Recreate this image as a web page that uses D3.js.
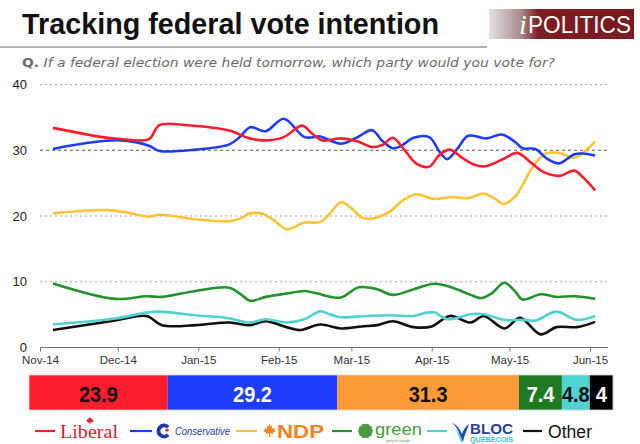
<!DOCTYPE html>
<html>
<head>
<meta charset="utf-8">
<script src="https://cdn.jsdelivr.net/npm/d3@7"></script>
<style>
body { margin: 0; background: #fff; }
</style>
</head>
<body>
<svg id="chart" width="640" height="444"></svg>
<script>
// данные опроса
const liberal = [["2014-11-06",33.4],["2014-11-25",32.0],["2014-12-02",31.7],["2014-12-13",31.7],["2014-12-17",33.8],["2014-12-28",33.8],["2015-01-09",33.3],["2015-01-14",32.9],["2015-01-20",31.9],["2015-01-26",31.5],["2015-02-03",32.0],["2015-02-10",33.75],["2015-02-14",32.5],["2015-02-18",31.5],["2015-02-25",31.8],["2015-03-03",31.4],["2015-03-09",30.5],["2015-03-13",30.8],["2015-03-17",31.9],["2015-03-21",30.3],["2015-03-26",28.0],["2015-03-31",27.5],["2015-04-04",29.3],["2015-04-08",30.1],["2015-04-13",28.75],["2015-04-18",27.7],["2015-04-22",27.6],["2015-04-29",28.75],["2015-05-04",29.6],["2015-05-09",28.2],["2015-05-14",26.7],["2015-05-20",26.1],["2015-05-26",26.9],["2015-05-29",26.0],["2015-06-03",23.9]];
const conservative = [["2014-11-06",30.2],["2014-11-19",31.1],["2014-12-02",31.5],["2014-12-13",30.7],["2014-12-17",29.9],["2014-12-31",30.1],["2015-01-13",30.9],["2015-01-17",32.0],["2015-01-21",33.5],["2015-01-27",32.9],["2015-02-03",34.8],["2015-02-11",32.0],["2015-02-17",32.1],["2015-02-19",31.8],["2015-02-25",31.0],["2015-03-03",31.9],["2015-03-09",33.05],["2015-03-13",31.4],["2015-03-17",30.3],["2015-03-20",30.6],["2015-03-25",31.9],["2015-03-31",32.0],["2015-04-04",29.8],["2015-04-07",28.65],["2015-04-11",30.3],["2015-04-15",32.2],["2015-04-22",31.8],["2015-04-28",32.4],["2015-05-03",31.3],["2015-05-06",30.3],["2015-05-11",30.2],["2015-05-15",28.85],["2015-05-20",28.0],["2015-05-26",29.4],["2015-05-29",29.5],["2015-06-03",29.2]];
const ndp = [["2014-11-06",20.4],["2014-11-27",20.9],["2014-12-05",20.5],["2014-12-13",19.9],["2014-12-17",20.2],["2014-12-31",19.5],["2015-01-13",19.2],["2015-01-17",19.6],["2015-01-21",20.4],["2015-01-26",20.3],["2015-01-30",19.4],["2015-02-04",18.0],["2015-02-11",19.0],["2015-02-17",19.1],["2015-02-21",20.5],["2015-02-25",22.1],["2015-03-01",21.2],["2015-03-05",19.8],["2015-03-09",19.6],["2015-03-13",20.1],["2015-03-16",20.7],["2015-03-21",22.4],["2015-03-26",23.3],["2015-04-02",22.6],["2015-04-09",22.9],["2015-04-15",22.7],["2015-04-21",23.4],["2015-04-25",22.7],["2015-04-29",21.85],["2015-05-03",22.9],["2015-05-06",24.7],["2015-05-10",27.5],["2015-05-15",29.5],["2015-05-20",29.6],["2015-05-26",28.85],["2015-05-29",29.5],["2015-06-03",31.3]];
const green = [["2014-11-06",9.75],["2014-11-30",7.4],["2014-12-12",7.8],["2014-12-18",7.7],["2014-12-31",8.6],["2015-01-13",9.1],["2015-01-17",8.2],["2015-01-21",7.1],["2015-01-27",7.7],["2015-02-04",8.2],["2015-02-11",8.6],["2015-02-16",8.2],["2015-02-21",7.7],["2015-02-25",7.6],["2015-03-04",9.15],["2015-03-11",8.85],["2015-03-17",8.0],["2015-03-25",8.85],["2015-04-02",9.7],["2015-04-09",9.1],["2015-04-16",8.0],["2015-04-20",7.5],["2015-04-24",8.2],["2015-04-29",9.85],["2015-05-03",8.6],["2015-05-06",7.3],["2015-05-13",8.1],["2015-05-19",7.7],["2015-05-26",7.8],["2015-06-03",7.4]];
const bloc = [["2014-11-06",3.5],["2014-11-30",4.4],["2014-12-12",5.3],["2014-12-17",5.45],["2014-12-31",4.9],["2015-01-12",4.5],["2015-01-21",3.8],["2015-01-27",4.3],["2015-02-04",3.8],["2015-02-11",4.3],["2015-02-17",5.5],["2015-02-21",5.0],["2015-02-25",4.6],["2015-03-07",4.8],["2015-03-16",4.9],["2015-03-25",4.8],["2015-03-30",5.3],["2015-04-02",5.35],["2015-04-07",4.3],["2015-04-16",5.05],["2015-04-21",5.05],["2015-04-29",4.2],["2015-05-06",4.2],["2015-05-11",4.1],["2015-05-19",5.45],["2015-05-27",4.2],["2015-06-03",4.8]];
const other = [["2014-11-06",2.65],["2014-11-30",4.1],["2014-12-12",4.8],["2014-12-18",3.4],["2014-12-31",3.4],["2015-01-13",3.8],["2015-01-21",3.4],["2015-01-27",4.0],["2015-02-04",3.1],["2015-02-09",2.65],["2015-02-17",3.5],["2015-02-25",2.9],["2015-03-05",3.2],["2015-03-11",3.4],["2015-03-17",4.0],["2015-03-25",3.1],["2015-04-01",3.2],["2015-04-08",4.8],["2015-04-16",3.8],["2015-04-21",4.8],["2015-04-29",2.9],["2015-05-05",4.5],["2015-05-13",2.0],["2015-05-19",3.1],["2015-05-27",3.1],["2015-06-03",3.9]];

const monthTicks = ["2014-11-01","2014-12-01","2015-01-01","2015-02-01","2015-03-01","2015-04-01","2015-05-01","2015-06-01"];
const yTicks = [0, 10, 20, 30, 40];

const partyKeys = ["liberal", "conservative", "ndp", "green", "bloc", "other"];
const lineColors = ["#fd1d2f", "#1d3cfb", "#fdc536", "#23922a", "#4fd2d2", "#111111"];
const barColors = ["#fd1d2f", "#1d3cfb", "#fd9a38", "#1f7a23", "#4fd2d2", "#000000"];
const latest = [23.9, 29.2, 31.3, 7.4, 4.8, 4];
const latestText = ["23.9", "29.2", "31.3", "7.4", "4.8", "4"];
const latestTextColors = ["#111", "#fff", "#111", "#fff", "#111", "#fff"];

const parseDate = d3.timeParse("%Y-%m-%d");
const series = [liberal, conservative, ndp, green, bloc, other];

const svg = d3.select("#chart");
const area = { left: 40, right: 608, top: 84.5, bottom: 347.5, dataRight: 590 };

// заголовок
svg.append("text")
    .attr("x", 22).attr("y", 34)
    .attr("textLength", 417).attr("lengthAdjust", "spacingAndGlyphs")
    .style("font-family", "'Liberation Sans', Arial, sans-serif")
    .style("font-weight", "bold").style("font-size", "30px").style("fill", "#111")
    .text("Tracking federal vote intention");

svg.append("line")
    .attr("x1", 0).attr("x2", 487).attr("y1", 47).attr("y2", 47)
    .attr("stroke", "#9a9a9a").attr("stroke-width", 1.5);

const sub = svg.append("text")
    .attr("x", 22).attr("y", 67)
    .attr("textLength", 533).attr("lengthAdjust", "spacingAndGlyphs")
    .style("font-family", "'DejaVu Sans', sans-serif").style("font-size", "13px").style("fill", "#6a6a6a");
sub.append("tspan").style("font-weight", "bold").text("Q.");
sub.append("tspan").style("font-style", "italic").text(" If a federal election were held tomorrow, which party would you vote for?");

// логотип
const grad = svg.append("defs").append("linearGradient").attr("id", "logoGrad");
grad.append("stop").attr("offset", "0%").attr("stop-color", "#e6e2e2");
grad.append("stop").attr("offset", "22%").attr("stop-color", "#a98a8a");
grad.append("stop").attr("offset", "34%").attr("stop-color", "#7e1e22");
grad.append("stop").attr("offset", "100%").attr("stop-color", "#7a1a1f");
svg.append("rect").attr("x", 489).attr("y", 9).attr("width", 145).attr("height", 30).attr("fill", "url(#logoGrad)");
svg.append("text").attr("x", 519).attr("y", 34)
    .style("font-family", "'Liberation Serif', serif").style("font-style", "italic")
    .style("font-size", "28px").style("fill", "#fff").text("i");
svg.append("text").attr("x", 528).attr("y", 33)
    .attr("textLength", 103).attr("lengthAdjust", "spacingAndGlyphs")
    .style("font-family", "'Liberation Sans', Arial, sans-serif")
    .style("font-size", "23px").style("fill", "#fff").text("POLITICS");

// шкалы
const scaleX = d3.scaleTime()
    .domain([parseDate(monthTicks[0]), parseDate(monthTicks[monthTicks.length - 1])])
    .range([area.left, area.dataRight]);
const scaleY = d3.scaleLinear().domain([0, 40]).range([area.bottom, area.top]);

// сетка
svg.append("g").selectAll("line")
    .data(yTicks.filter(d => d > 0))
    .join("line")
    .attr("x1", area.left).attr("x2", area.right)
    .attr("y1", d => scaleY(d)).attr("y2", d => scaleY(d))
    .attr("stroke", d => d === 30 ? "#555" : "#aaa")
    .attr("stroke-width", 1)
    .attr("stroke-dasharray", d => d === 30 ? "3,3" : "2,3");

svg.append("g").selectAll("text")
    .data(yTicks)
    .join("text")
    .attr("x", 27).attr("y", d => scaleY(d) + 4.5)
    .attr("text-anchor", "end")
    .style("font-family", "'Liberation Sans', Arial, sans-serif")
    .style("font-size", "13px").style("fill", "#222")
    .text(d => d);

// ось X
const axisX = d3.axisBottom(scaleX)
    .tickValues(monthTicks.map(parseDate))
    .tickFormat(d3.timeFormat("%b-%y"))
    .tickSize(4).tickPadding(4);
const gx = svg.append("g")
    .attr("transform", `translate(0, ${area.bottom})`)
    .call(axisX);
gx.select(".domain").remove();
gx.selectAll(".tick line").attr("stroke", "#777");
gx.selectAll("text")
    .style("font-family", "'Liberation Sans', Arial, sans-serif")
    .style("font-size", "11.5px").style("fill", "#333");
svg.append("line")
    .attr("x1", area.left).attr("x2", area.right)
    .attr("y1", area.bottom).attr("y2", area.bottom)
    .attr("stroke", "#777").attr("stroke-width", 1);

// линии
const lineGen = d3.line()
    .x(d => scaleX(parseDate(d[0])))
    .y(d => scaleY(d[1]))
    .curve(d3.curveCatmullRom.alpha(0.5));

[5, 4, 3, 2, 1, 0].forEach(i => {
    svg.append("path")
        .datum(series[i])
        .attr("fill", "none")
        .attr("stroke", lineColors[i])
        .attr("stroke-width", 2.6)
        .attr("stroke-linejoin", "round")
        .attr("d", lineGen);
});

// полоса последних значений
const total = d3.sum(latest);
const starts = d3.cumsum([0, ...latest]);
const scaleBar = d3.scaleLinear().domain([0, total]).range([29, 613]);
const barTop = 375, barH = 35;

latest.forEach((v, i) => {
    svg.append("rect")
        .attr("x", scaleBar(starts[i]))
        .attr("y", barTop)
        .attr("width", scaleBar(starts[i] + v) - scaleBar(starts[i]))
        .attr("height", barH)
        .attr("fill", barColors[i]);
    const label = latestText[i];
    svg.append("text")
        .attr("x", scaleBar(starts[i] + v / 2))
        .attr("y", barTop + 26.5)
        .attr("text-anchor", "middle")
        .attr("textLength", label.replace(".", "").length * 11.3 + (label.includes(".") ? 5 : 0))
        .attr("lengthAdjust", "spacingAndGlyphs")
        .style("font-family", "'Liberation Sans', Arial, sans-serif")
        .style("font-weight", "bold").style("font-size", "21.5px")
        .style("fill", latestTextColors[i])
        .text(label);
});
svg.append("rect")
    .attr("x", scaleBar(0)).attr("y", barTop)
    .attr("width", scaleBar(total) - scaleBar(0)).attr("height", barH)
    .attr("fill", "none").attr("stroke", "#d5d5d5").attr("stroke-width", 0.8);

// легенда
const legY = 431;
const legLines = [[35, 55], [130, 152], [236, 257], [332, 352], [427, 447], [523, 542]];
legLines.forEach((p, i) => {
    svg.append("line")
        .attr("x1", p[0]).attr("x2", p[1]).attr("y1", legY).attr("y2", legY)
        .attr("stroke", lineColors[i]).attr("stroke-width", 2.2);
});

function leafPath(cx, cy, s) {
    const pts = [[0,-1],[0.15,-0.6],[0.35,-0.7],[0.3,-0.3],[0.7,-0.45],[0.6,-0.2],[0.85,0],[0.45,0.2],[0.5,0.4],[0.08,0.3],[0.08,0.8],[-0.08,0.8],[-0.08,0.3],[-0.5,0.4],[-0.45,0.2],[-0.85,0],[-0.6,-0.2],[-0.7,-0.45],[-0.3,-0.3],[-0.35,-0.7],[-0.15,-0.6]];
    return "M" + pts.map(p => [cx + p[0] * s, cy + p[1] * s].join(",")).join("L") + "Z";
}

// Liberal
svg.append("text").attr("x", 60).attr("y", 438)
    .attr("textLength", 58).attr("lengthAdjust", "spacingAndGlyphs")
    .style("font-family", "'Liberation Serif', serif").style("font-size", "19px").style("fill", "#d21f2f")
    .text("Liberal");
svg.append("path").attr("d", leafPath(90, 421, 4.5)).attr("fill", "#d21f2f");

// Conservative
svg.append("path")
    .attr("d", d3.arc()({ innerRadius: 3.5, outerRadius: 7.5, startAngle: Math.PI / 2 + 0.75, endAngle: Math.PI / 2 + 2 * Math.PI - 0.75 }))
    .attr("transform", `translate(164, ${legY})`)
    .attr("fill", "#1f3a9e");
svg.append("path").attr("d", leafPath(167, legY - 0.5, 2.6)).attr("fill", "#e8202d");
svg.append("text").attr("x", 175).attr("y", 435)
    .attr("textLength", 55).attr("lengthAdjust", "spacingAndGlyphs")
    .style("font-family", "'Liberation Sans', Arial, sans-serif").style("font-style", "italic")
    .style("font-size", "11px").style("fill", "#1f3a9e")
    .text("Conservative");

// NDP
svg.append("path").attr("d", leafPath(269.5, legY, 7.5)).attr("fill", "#f58220");
svg.append("text").attr("x", 277).attr("y", 438)
    .attr("textLength", 47).attr("lengthAdjust", "spacingAndGlyphs")
    .style("font-family", "'Liberation Sans', Arial, sans-serif").style("font-weight", "bold")
    .style("font-size", "18px").style("fill", "#f58220")
    .text("NDP");

// green
const flower = svg.append("g").attr("transform", `translate(365.5, ${legY})`);
d3.range(10).forEach(k => {
    const a = k * Math.PI / 5;
    flower.append("circle").attr("cx", 5 * Math.cos(a)).attr("cy", 5 * Math.sin(a)).attr("r", 2.4).attr("fill", "#4a9a3f");
});
flower.append("circle").attr("r", 5).attr("fill", "#4a9a3f");
svg.append("text").attr("x", 375).attr("y", 435)
    .attr("textLength", 47).attr("lengthAdjust", "spacingAndGlyphs")
    .style("font-family", "'Liberation Sans', Arial, sans-serif")
    .style("font-size", "17px").style("fill", "#4a9a3f")
    .text("green");
svg.append("text").attr("x", 398).attr("y", 442).attr("text-anchor", "middle")
    .style("font-family", "'Liberation Sans', Arial, sans-serif")
    .style("font-size", "3.5px").style("fill", "#4a9a3f")
    .text("party of canada");

// Bloc
svg.append("path")
    .attr("d", "M452,423 C458,427 460,436 463,442 C465,433 468,428 469,424 C466,426 463,430 462,434 C460,429 457,425 452,423 Z")
    .attr("fill", "#1d4fa8");
svg.append("path")
    .attr("d", "M455,429 C458,433 459,438 461,442 L463,442 C461,437 459,432 455,429 Z")
    .attr("fill", "#4fd2d2");
svg.append("text").attr("x", 470).attr("y", 434)
    .attr("textLength", 43).attr("lengthAdjust", "spacingAndGlyphs")
    .style("font-family", "'Liberation Sans', Arial, sans-serif").style("font-weight", "bold")
    .style("font-size", "15px").style("fill", "#2a3f96")
    .text("BLOC");
svg.append("text").attr("x", 470).attr("y", 441.5)
    .attr("textLength", 43).attr("lengthAdjust", "spacingAndGlyphs")
    .style("font-family", "'Liberation Sans', Arial, sans-serif").style("font-weight", "bold")
    .style("font-size", "6.5px").style("fill", "#3cc3c8")
    .text("QUÉBÉCOIS");

// Other
svg.append("text").attr("x", 548).attr("y", 438)
    .attr("textLength", 44).attr("lengthAdjust", "spacingAndGlyphs")
    .style("font-family", "'Liberation Sans', Arial, sans-serif")
    .style("font-size", "17.5px").style("fill", "#111")
    .text("Other");
</script>
</body>
</html>
